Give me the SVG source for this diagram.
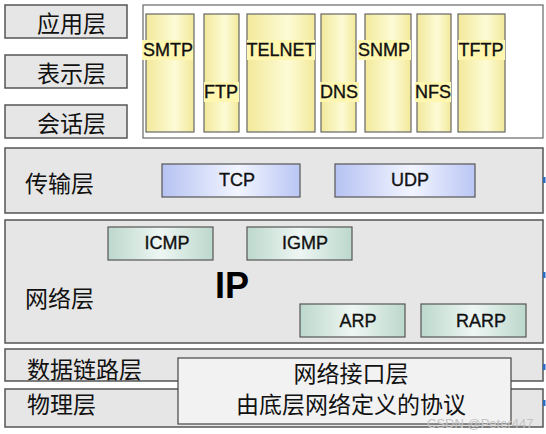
<svg xmlns="http://www.w3.org/2000/svg" width="546" height="434" viewBox="0 0 546 434">
<defs>
<linearGradient id="gy" x1="0" y1="0" x2="1" y2="0">
<stop offset="0" stop-color="#f2e99a"/><stop offset="0.6" stop-color="#fdfbd6"/><stop offset="1" stop-color="#f2e99a"/>
</linearGradient>
<linearGradient id="gb" x1="0" y1="0" x2="1" y2="0">
<stop offset="0" stop-color="#b6c2f2"/><stop offset="0.55" stop-color="#f2f5ff"/><stop offset="1" stop-color="#bac6f4"/>
</linearGradient>
<linearGradient id="gt" x1="0" y1="0" x2="1" y2="0">
<stop offset="0" stop-color="#bcd8cc"/><stop offset="0.5" stop-color="#eef6f3"/><stop offset="1" stop-color="#bcd8cc"/>
</linearGradient>
<style>
.layer{fill:#e6e6e6;stroke:#555;stroke-width:1.5}
.col{fill:url(#gy);stroke:#666;stroke-width:1.2}
.hl{fill:#fff7b0}
.blue{fill:url(#gb);stroke:#555;stroke-width:1.2}
.teal{fill:url(#gt);stroke:#555;stroke-width:1.2}
.cn{font-family:"Noto Sans CJK SC","Noto Sans",sans-serif;font-size:23px;fill:#111;dominant-baseline:central}
.en{font-family:"Liberation Sans",Arial,sans-serif;font-size:18px;fill:#111;stroke:#111;stroke-width:0.35;text-anchor:middle;dominant-baseline:central}
.dot{fill:#2a6cc8}
</style>
</defs>
<rect width="546" height="434" fill="#ffffff"/>
<g id="app-layer"><rect class="layer" x="5" y="5" width="122" height="33"/><text class="cn" x="37" y="22">应用层</text></g>
<g id="pres-layer"><rect class="layer" x="5" y="55" width="122" height="33"/><text class="cn" x="37" y="72">表示层</text></g>
<g id="session-layer"><rect class="layer" x="5" y="105" width="122" height="33"/><text class="cn" x="37" y="122">会话层</text></g>
<g id="app-protocols">
<rect x="143" y="5" width="400" height="133" fill="#ffffff" stroke="#666" stroke-width="1.2"/>
</g>
<g id="smtp"><rect class="col" x="146" y="14" width="48" height="118"/><rect class="hl" x="142" y="40" width="51" height="20"/><text class="en" x="168" y="50">SMTP</text></g>
<g id="ftp"><rect class="col" x="204" y="14" width="35" height="118"/><rect class="hl" x="204" y="82" width="35" height="20"/><text class="en" x="221" y="92">FTP</text></g>
<g id="telnet"><rect class="col" x="247" y="14" width="68" height="118"/><rect class="hl" x="247" y="40" width="68" height="20"/><text class="en" x="281" y="50">TELNET</text></g>
<g id="dns"><rect class="col" x="321" y="14" width="35" height="118"/><rect class="hl" x="320" y="82" width="39" height="20"/><text class="en" x="339" y="92">DNS</text></g>
<g id="snmp"><rect class="col" x="365" y="14" width="46" height="118"/><rect class="hl" x="358" y="40" width="53" height="20"/><text class="en" x="384" y="50">SNMP</text></g>
<g id="nfs"><rect class="col" x="417" y="14" width="34" height="118"/><rect class="hl" x="415" y="82" width="36" height="20"/><text class="en" x="433" y="92">NFS</text></g>
<g id="tftp"><rect class="col" x="458" y="14" width="47" height="118"/><rect class="hl" x="458" y="40" width="47" height="20"/><text class="en" x="481" y="50">TFTP</text></g>

<g id="transport-layer"><rect class="layer" x="5" y="148" width="538" height="65"/><text class="cn" x="25" y="182">传输层</text></g>
<g id="tcp"><rect class="blue" x="162" y="164" width="138" height="33"/><text class="en" x="237" y="180">TCP</text></g>
<g id="udp"><rect class="blue" x="335" y="164" width="140" height="33"/><text class="en" x="410" y="180">UDP</text></g>

<g id="network-layer"><rect class="layer" x="5" y="220" width="538" height="123"/><text class="cn" x="25" y="297">网络层</text>
<text x="215" y="298" font-family="Liberation Sans,Arial,sans-serif" font-size="36" font-weight="bold" fill="#000">IP</text></g>
<g id="icmp"><rect class="teal" x="108" y="227" width="105" height="33"/><text class="en" x="167" y="243">ICMP</text></g>
<g id="igmp"><rect class="teal" x="247" y="227" width="105" height="33"/><text class="en" x="305" y="243">IGMP</text></g>
<g id="arp"><rect class="teal" x="300" y="304" width="105" height="33"/><text class="en" x="358" y="321">ARP</text></g>
<g id="rarp"><rect class="teal" x="421" y="304" width="105" height="33"/><text class="en" x="481" y="321">RARP</text></g>

<g id="datalink-layer"><rect class="layer" x="5" y="349" width="538" height="32"/><text class="cn" x="27" y="368">数据链路层</text></g>
<g id="physical-layer"><rect class="layer" x="5" y="389" width="538" height="38"/><text class="cn" x="27" y="403">物理层</text></g>
<g id="net-interface"><rect x="178" y="358" width="333" height="66" fill="#f2f2f2" stroke="#444" stroke-width="1.2"/>
<text class="cn" x="351" y="372" text-anchor="middle">网络接口层</text>
<text class="cn" x="351" y="403" text-anchor="middle">由底层网络定义的协议</text></g>

<g id="connectors">
<rect class="dot" x="543" y="177" width="2.5" height="6"/>
<rect class="dot" x="543" y="272" width="2.5" height="6"/>
<rect class="dot" x="543" y="364" width="2.5" height="6"/>
<rect class="dot" x="543" y="400" width="2.5" height="6"/>
</g>
<text x="427" y="428" font-family="Liberation Sans,Arial,sans-serif" font-size="13" fill="#c4c4c4">CSDN @Peter447</text>
</svg>
